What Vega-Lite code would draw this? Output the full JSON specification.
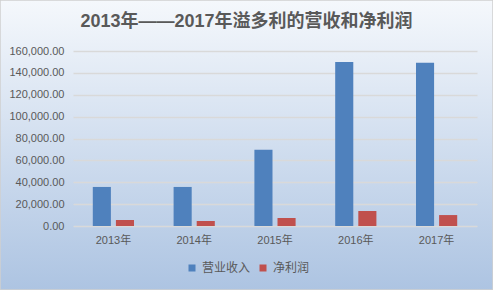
{
  "$schema": "https://vega.github.io/schema/vega-lite/v6.json",
  "width": 493,
  "height": 290,
  "autosize": {"type": "none"},
  "padding": 0,
  "background": "#adc4e2",
  "title": {
    "text": "2013年——2017年溢多利的营收和净利润",
    "frame": "group",
    "anchor": "middle",
    "offset": -31,
    "fontSize": 18,
    "fontWeight": "bold",
    "font": "Liberation Sans, Noto Sans CJK SC",
    "color": "#595959"
  },
  "config": {
    "view": {
      "fill": {
        "gradient": "linear",
        "x1": 0, "y1": 0, "x2": 0, "y2": 1,
        "stops": [
          {"offset": 0, "color": "#f5f8fc"},
          {"offset": 1, "color": "#adc4e2"}
        ]
      },
      "stroke": "#d0d0d0",
      "strokeWidth": 1.5
    },
    "font": "Liberation Sans, Noto Sans CJK SC"
  },
  "data": {
    "values": [
      {"year": "2013年", "series": "营业收入", "value": 35700},
      {"year": "2013年", "series": "净利润", "value": 5500},
      {"year": "2014年", "series": "营业收入", "value": 35700},
      {"year": "2014年", "series": "净利润", "value": 4600},
      {"year": "2015年", "series": "营业收入", "value": 69800},
      {"year": "2015年", "series": "净利润", "value": 7300},
      {"year": "2016年", "series": "营业收入", "value": 150000},
      {"year": "2016年", "series": "净利润", "value": 13700},
      {"year": "2017年", "series": "营业收入", "value": 149200},
      {"year": "2017年", "series": "净利润", "value": 10000}
    ]
  },
  "mark": {"type": "bar"},
  "encoding": {
    "x": {
      "field": "year",
      "type": "nominal",
      "scale": {"range": [73, 477], "paddingInner": 0.49, "paddingOuter": 0.245},
      "axis": {
        "title": null,
        "orient": "bottom",
        "offset": -64,
        "domain": false,
        "ticks": false,
        "labelAngle": 0,
        "labelPadding": 8,
        "labelFontSize": 11,
        "labelColor": "#595959",
        "grid": false
      }
    },
    "xOffset": {
      "field": "series",
      "type": "nominal",
      "sort": ["营业收入", "净利润"],
      "scale": {"paddingInner": 0.217, "paddingOuter": 0}
    },
    "y": {
      "field": "value",
      "type": "quantitative",
      "scale": {"domain": [0, 160000], "range": [226, 51], "nice": false, "zero": true},
      "axis": {
        "title": null,
        "offset": -70,
        "domain": false,
        "ticks": false,
        "values": [0, 20000, 40000, 60000, 80000, 100000, 120000, 140000, 160000],
        "format": ",.2f",
        "labelPadding": 6,
        "labelFontSize": 11,
        "labelColor": "#595959",
        "gridColor": "#d9d9d9",
        "gridWidth": 1.3
      }
    },
    "color": {
      "field": "series",
      "type": "nominal",
      "sort": ["营业收入", "净利润"],
      "scale": {"domain": ["营业收入", "净利润"], "range": ["#4f81bd", "#c0504d"]},
      "legend": {
        "title": null,
        "orient": "none",
        "legendX": 186,
        "legendY": 262,
        "direction": "horizontal",
        "symbolType": "square",
        "symbolSize": 49,
        "symbolStrokeWidth": 0,
        "labelFontSize": 12,
        "labelColor": "#595959",
        "labelOffset": 4,
        "columnPadding": 6
      }
    }
  }
}
